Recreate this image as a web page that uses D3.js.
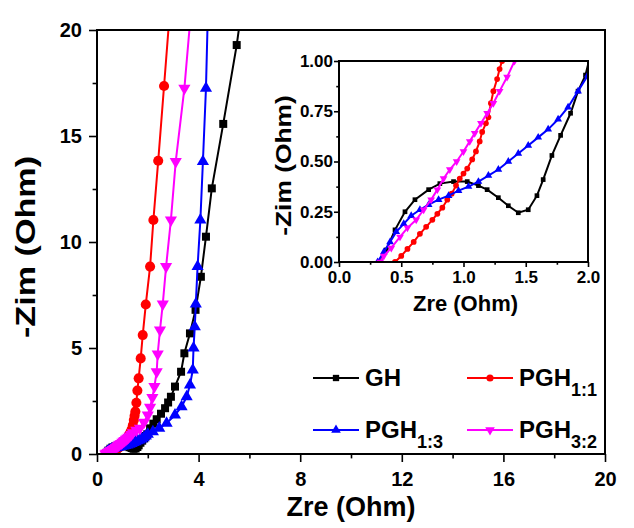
<!DOCTYPE html>
<html><head><meta charset="utf-8">
<script src="https://cdn.jsdelivr.net/npm/d3@7"></script>
<style>body{margin:0;background:#fff}svg{display:block}text{font-family:"Liberation Sans",Arial,sans-serif;font-weight:bold}</style>
</head><body><svg id="c" width="634" height="528"></svg>
<script>
const seriesNames = ["GH", "PGH1:1", "PGH1:3", "PGH3:2"];
const seriesColors = ["#000000", "#ff0000", "#0000ff", "#ff00ff"];
const seriesSymbols = ["square", "circle", "triangle", "triangleDown"];

const ghData = [[0.33,0.0],[0.38,0.06],[0.45,0.16],[0.53,0.25],[0.61,0.31],[0.72,0.36],[0.81,0.39],[0.92,0.40],[1.03,0.40],[1.12,0.38],[1.19,0.36],[1.28,0.32],[1.36,0.28],[1.44,0.245],[1.52,0.26],[1.59,0.33],[1.64,0.41],[1.71,0.53],[1.78,0.63],[1.86,0.74],[1.92,0.85],[1.98,0.93],[2.09,1.21],[2.22,1.43],[2.35,1.64],[2.52,1.90],[2.68,2.16],[2.80,2.43],[2.91,2.70],[3.07,3.18],[3.31,3.88],[3.44,4.75],[3.66,5.69],[3.88,6.8],[4.09,8.36],[4.29,10.25],[4.52,12.53],[4.97,15.57],[5.5,19.29],[5.65,20.6]];
const pgh11Data = [[0.45,0],[0.50,0.03],[0.55,0.065],[0.60,0.10],[0.65,0.14],[0.70,0.175],[0.75,0.21],[0.79,0.24],[0.83,0.27],[0.87,0.31],[0.905,0.34],[0.94,0.38],[0.97,0.415],[1.0,0.44],[1.03,0.465],[1.07,0.51],[1.10,0.55],[1.13,0.60],[1.15,0.647],[1.18,0.69],[1.20,0.72],[1.22,0.79],[1.24,0.85],[1.27,0.91],[1.29,0.96],[1.31,1.0],[1.36,1.15],[1.41,1.35],[1.45,1.6],[1.48,1.8],[1.51,2.0],[1.55,2.42],[1.59,2.99],[1.64,3.57],[1.72,4.51],[1.80,5.61],[1.92,7.05],[2.09,8.84],[2.22,11.04],[2.41,13.83],[2.64,17.36],[2.85,20.6]];
const pgh13Data = [[0.31,0],[0.36,0.05],[0.41,0.10],[0.46,0.15],[0.52,0.19],[0.58,0.23],[0.65,0.26],[0.72,0.285],[0.80,0.31],[0.88,0.33],[0.96,0.355],[1.04,0.375],[1.12,0.40],[1.20,0.43],[1.28,0.46],[1.36,0.50],[1.44,0.54],[1.52,0.58],[1.60,0.62],[1.68,0.66],[1.76,0.71],[1.84,0.77],[1.92,0.85],[2.0,0.93],[2.2,1.05],[2.45,1.22],[2.74,1.45],[3.07,1.84],[3.33,2.23],[3.53,2.7],[3.66,3.25],[3.77,3.96],[3.80,5.0],[3.85,6.0],[3.89,7.08],[3.96,8.84],[4.07,11.04],[4.17,13.8],[4.29,17.25],[4.36,20.6]];
const pgh32Data = [[0.33,0],[0.36,0.03],[0.42,0.07],[0.49,0.125],[0.55,0.17],[0.62,0.21],[0.68,0.26],[0.74,0.31],[0.79,0.36],[0.84,0.415],[0.89,0.46],[0.945,0.50],[1.0,0.55],[1.05,0.60],[1.09,0.64],[1.14,0.69],[1.19,0.74],[1.24,0.79],[1.29,0.85],[1.35,0.92],[1.41,1.0],[1.55,1.12],[1.69,1.21],[1.85,1.5],[2.0,1.84],[2.09,2.2],[2.18,2.67],[2.26,3.18],[2.35,3.88],[2.39,4.72],[2.48,5.85],[2.59,7.08],[2.72,8.84],[2.91,11.04],[3.1,13.8],[3.44,17.25],[3.68,20.6]];
const allData = [ghData, pgh11Data, pgh13Data, pgh32Data];

const mainXTicks = [0, 4, 8, 12, 16, 20];
const mainYTicks = [0, 5, 10, 15, 20];
const insetXTicks = [0, 0.5, 1.0, 1.5, 2.0];
const insetYTicks = [0, 0.25, 0.5, 0.75, 1.0];

const svg = d3.select("#c");
const symMap = {square: d3.symbolSquare, circle: d3.symbolCircle, triangle: d3.symbolTriangle, triangleDown: d3.symbolTriangle};

function drawPanel(g, x, y, opt) {
  const [x0, x1] = x.range(), [y0, y1] = y.range();
  const id = "clip" + opt.name;
  svg.append("clipPath").attr("id", id).append("rect")
    .attr("x", x0).attr("y", y1).attr("width", x1 - x0).attr("height", y0 - y1);
  const plot = g.append("g").attr("clip-path", `url(#${id})`);
  allData.forEach((d, i) => {
    plot.append("path").datum(d)
      .attr("d", d3.line().x(p => x(p[0])).y(p => y(p[1])))
      .attr("fill", "none").attr("stroke", seriesColors[i]).attr("stroke-width", opt.lw);
    const sym = d3.symbol().type(symMap[seriesSymbols[i]]).size(opt.sizes[i]);
    plot.selectAll(null).data(d).enter().append("path")
      .attr("d", sym)
      .attr("transform", p => `translate(${x(p[0])},${y(p[1])})` + (seriesSymbols[i] === "triangleDown" ? " rotate(180)" : ""))
      .attr("fill", seriesColors[i]);
  });
  const xa = d3.axisBottom(x).tickValues(opt.xTicks).tickSize(opt.tick).tickPadding(opt.padX).tickFormat(opt.xFmt);
  const ya = d3.axisLeft(y).tickValues(opt.yTicks).tickSize(opt.tick).tickPadding(opt.padY).tickFormat(opt.yFmt);
  const gx = g.append("g").attr("transform", `translate(0,${y0})`).call(xa);
  const gy = g.append("g").attr("transform", `translate(${x0},0)`).call(ya);
  const gxm = g.append("g").attr("transform", `translate(0,${y0})`).call(d3.axisBottom(x).tickValues(opt.xMinor).tickSize(opt.tick * 0.55).tickFormat(""));
  const gym = g.append("g").attr("transform", `translate(${x0},0)`).call(d3.axisLeft(y).tickValues(opt.yMinor).tickSize(opt.tick * 0.55).tickFormat(""));
  [gx, gy, gxm, gym].forEach(a => {
    a.select(".domain").remove();
    a.selectAll("line").attr("stroke", "#000").attr("stroke-width", opt.fw * 0.8);
    a.selectAll("text").attr("font-size", opt.fs).attr("fill", "#000");
  });
  g.append("rect").attr("x", x0).attr("y", y1).attr("width", x1 - x0).attr("height", y0 - y1)
    .attr("fill", "none").attr("stroke", "#000").attr("stroke-width", opt.fw);
  g.append("text").attr("x", (x0 + x1) / 2 + opt.xtDx).attr("y", opt.xtY).attr("text-anchor", "middle")
    .attr("font-size", opt.tfs).text("Zre (Ohm)");
  g.append("text").attr("transform", `translate(${opt.ytX},${(y0 + y1) / 2 + opt.ytDy}) rotate(-90) scale(${opt.ytStretch},1)`).attr("text-anchor", "middle")
    .attr("font-size", opt.ytfs).text("-Zim (Ohm)");
}

const mx = d3.scaleLinear().domain([0, 20]).range([97, 605]);
const my = d3.scaleLinear().domain([0, 20]).range([454, 30]);
drawPanel(svg.append("g"), mx, my, {
  name: "main", lw: 2, sizes: [64, 80, 64, 64], xTicks: mainXTicks, yTicks: mainYTicks,
  xMinor: [2, 6, 10, 14, 18], yMinor: [2.5, 7.5, 12.5, 17.5], tick: 8, padX: 10, padY: 7, fw: 2,
  fs: 20, tfs: 27, xtY: 516, xtDx: 0, ytX: 35, ytDy: 5, ytfs: 28, ytStretch: 1.22,
  xFmt: d3.format("d"), yFmt: d3.format("d")
});

const ix = d3.scaleLinear().domain([0, 2]).range([339, 588]);
const iy = d3.scaleLinear().domain([0, 1]).range([262, 61]);
svg.append("rect").attr("x", 268).attr("y", 40).attr("width", 330).attr("height", 280).attr("fill", "#fff");
drawPanel(svg.append("g"), ix, iy, {
  name: "inset", lw: 2, sizes: [22, 26, 26, 26], xTicks: insetXTicks, yTicks: insetYTicks,
  xMinor: [0.25, 0.75, 1.25, 1.75], yMinor: [0.125, 0.375, 0.625, 0.875], tick: 5, padX: 4, padY: 1, fw: 2,
  fs: 17, tfs: 22, xtY: 311, xtDx: 2, ytX: 291, ytDy: 4, ytfs: 22, ytStretch: 1.2,
  xFmt: d3.format(".1f"), yFmt: d3.format(".2f")
});

// legend
const legendPos = [[313, 378], [467, 378], [313, 430], [467, 430]];
const legendLabels = [["GH", ""], ["PGH", "1:1"], ["PGH", "1:3"], ["PGH", "3:2"]];
const lg = svg.append("g");
seriesNames.forEach((n, i) => {
  const [lx, ly] = legendPos[i];
  lg.append("line").attr("x1", lx).attr("x2", lx + 46).attr("y1", ly).attr("y2", ly)
    .attr("stroke", seriesColors[i]).attr("stroke-width", 2);
  lg.append("path").attr("d", d3.symbol().type(symMap[seriesSymbols[i]]).size(40)())
    .attr("transform", `translate(${lx + 23},${ly})` + (seriesSymbols[i] === "triangleDown" ? " rotate(180)" : ""))
    .attr("fill", seriesColors[i]);
  const t = lg.append("text").attr("x", lx + 52).attr("y", ly + 8).attr("font-size", 24).attr("fill", "#000");
  t.append("tspan").text(legendLabels[i][0]);
  if (legendLabels[i][1]) t.append("tspan").attr("dy", 10).attr("font-size", 18).text(legendLabels[i][1]);
});
</script></body></html>
